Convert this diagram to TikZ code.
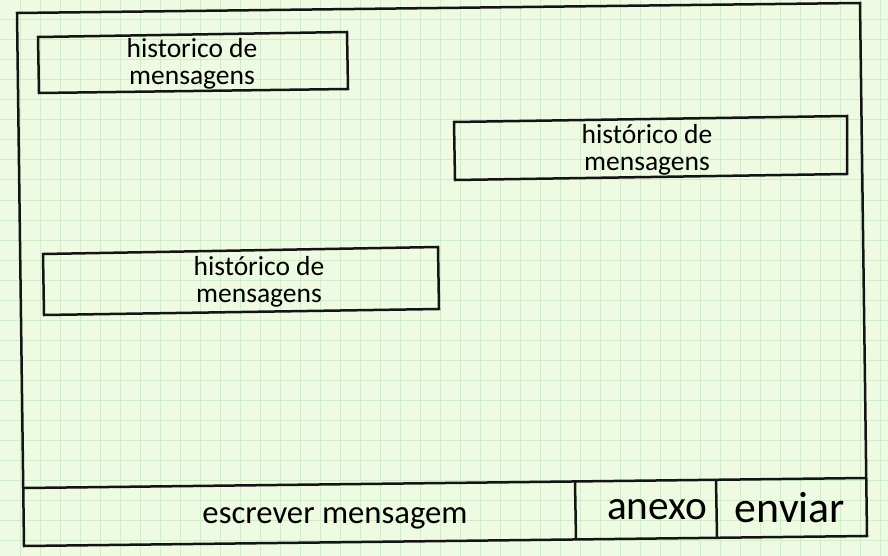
\documentclass[tikz,border=0pt]{standalone}
\usepackage{fontspec}
\setmainfont{Carlito}
\usepackage{xcolor}
\definecolor{paper}{RGB}{238,250,226}
\definecolor{gridgreen}{RGB}{208,236,202}

\begin{document}
\begin{tikzpicture}[x=1pt, y=-1pt,
    sketch/.style={draw=black!92, line width=2.5pt, line join=miter},
    gridline/.style={draw=gridgreen, line width=1pt},
    msg/.style={align=center, inner sep=0pt, font=\fontsize{27.5}{26.5}\selectfont},
    bar/.style={anchor=base, inner sep=0pt}]
  \useasboundingbox[fill=paper] (0,0) rectangle (888,556);
  % grid paper
  \foreach \gx in {20,40,...,880}
    \draw[gridline] (\gx,0) -- (\gx,556);
  \foreach \gy in {20,40,...,540}
    \draw[gridline] (0,\gy) -- (888,\gy);

  % window frame
  \coordinate (fNW) at (17,13);
  \coordinate (fNE) at (860,3);
  \coordinate (fSE) at (867,536);
  \coordinate (fSW) at (24,546);
  \draw[sketch] (fNW) -- (fNE) -- (fSE) -- (fSW) -- cycle;

  % input bar
  \coordinate (barW) at (24,488);
  \coordinate (barE) at (866,478);
  \coordinate (anexoN) at (575,482);
  \coordinate (anexoS) at (576,539);
  \coordinate (enviarN) at (716,480);
  \coordinate (enviarS) at (717,537);
  \draw[sketch] (barW) -- (barE);
  \draw[sketch] (anexoN) -- (anexoS);
  \draw[sketch] (enviarN) -- (enviarS);

  % message boxes
  \draw[sketch] (38,37) -- (347,32) -- (348,89) -- (39,93) -- cycle;
  \draw[sketch] (454,122) -- (847,116) -- (847,174) -- (455,180) -- cycle;
  \draw[sketch] (43,254) -- (438,247) -- (439,309) -- (44,315) -- cycle;

  \node[msg] (msg1) at (192,64) {historico de\\mensagens};
  \node[msg] (msg2) at (647,150) {histórico de\\mensagens};
  \node[msg] (msg3) at (259,282) {histórico de\\mensagens};

  \node[bar, font=\fontsize{32.7}{34}\selectfont] (escrever) at (335,523) {escrever mensagem};
  \node[bar, font=\fontsize{41.3}{43}\selectfont] (anexo) at (657,519) {anexo};
  \node[bar, font=\fontsize{43.8}{46}\selectfont] (enviar) at (790,522) {enviar};
\end{tikzpicture}
\end{document}
